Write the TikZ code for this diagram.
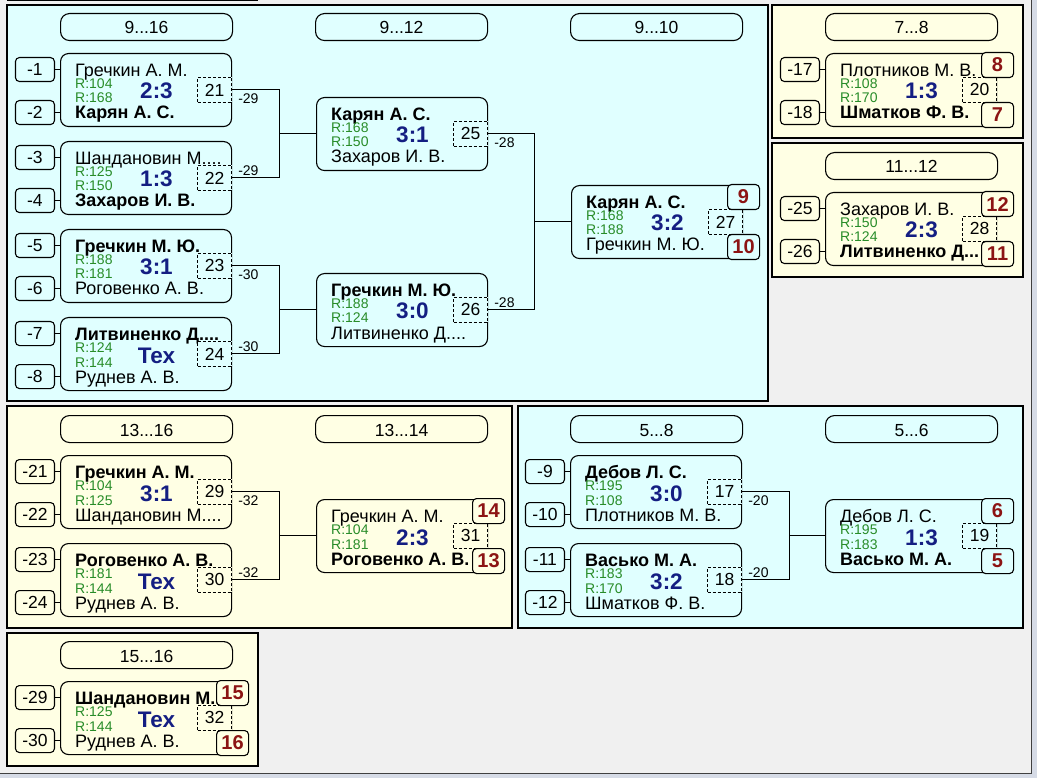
\documentclass[tikz,border=0pt]{standalone}
\usepackage{fontspec}
\setmainfont{Liberation Sans}
\usetikzlibrary{calc}
\definecolor{cyanbg}{RGB}{224,255,255}
\definecolor{yelbg}{RGB}{255,255,228}
\definecolor{graybg}{RGB}{240,240,240}
\definecolor{stripbg}{RGB}{214,219,230}
\definecolor{scoreblue}{RGB}{20,30,130}
\definecolor{rgreen}{RGB}{40,140,40}
\definecolor{placered}{RGB}{140,20,20}
\colorlet{pbg}{cyanbg}

\newcommand{\drawmatch}[9]{%
 \node[matchbox] (#1) at (#2,#3) {};
 \node[nametext] (#1a) at ($(#1.north west)+(15,23.5)$) {#4};
 \node[rtext] (#1ra) at ($(#1.north west)+(15,35.5)$) {#6};
 \node[rtext] (#1rb) at ($(#1.north west)+(15,50)$) {#7};
 \node[scoretext] (#1sc) at ($(#1.north west)+(96.5,46)$) {#8};
 \node[nametext] (#1b) at ($(#1.north west)+(15,66)$) {#5};
 \node[numbox, anchor=north east] (#1d) at ($(#1.north east)+(0,24)$) {#9};
}
\newcommand{\drawseeds}[3]{%
 \node[seedbox, anchor=north east] (#1s1) at ($(#1.north west)+(-5,4)$) {#2};
 \node[seedbox, anchor=north east] (#1s2) at ($(#1.north west)+(-5,47)$) {#3};
 \draw[conn] (#1s1.east) -- (#1s1.east -| #1.west);
 \draw[conn] (#1s2.east) -- (#1s2.east -| #1.west);
}
\newcommand{\drawplaces}[3]{%
 \node[placebox, anchor=north east] (#1p1) at ($(#1.north east)+(17,-1)$) {#2};
 \node[placebox, anchor=south east] (#1p2) at ($(#1.south east)+(17,1)$) {#3};
}
\newcommand{\drawjoin}[5]{%
 \coordinate (#1j) at ($(#1d.east)!0.5!(#2d.east)+(#5,0)$);
 \draw[conn] (#1d.east) -| (#1j) |- (#2d.east);
 \draw[conn] (#1j) -- (#1j -| #3.west);
 \node[lbl, anchor=north west] (#1l) at ($(#1d.east)+(6,4)$) {#4};
 \node[lbl, anchor=south west] (#2l) at ($(#2d.east)+(6,-2)$) {#4};
}
\newcommand{\drawpill}[4]{%
 \node[pill] (#1) at (#2,#3) {};
 \node[pilltext] (#1t) at ($(#1.north)+(0,21)$) {#4};
}

\begin{document}
\begin{tikzpicture}[x=1pt,y=-1pt,
 panel/.style={draw=black, line width=1.1pt},
 pill/.style={draw=black, line width=1.1pt, rounded corners=9pt, minimum width=172pt, minimum height=27pt, inner sep=0pt, anchor=north west},
 pilltext/.style={font=\fontsize{17.5}{20}\selectfont, anchor=base, inner sep=0pt},
 matchbox/.style={draw=black, line width=1.1pt, rounded corners=8pt, minimum width=171pt, minimum height=73pt, inner sep=0pt, anchor=north west},
 seedbox/.style={draw=black, line width=1.1pt, rounded corners=4pt, minimum width=39pt, minimum height=24pt, inner sep=0pt, font=\fontsize{17.5}{20}\selectfont},
 numbox/.style={draw=black, line width=0.9pt, dash pattern=on 3pt off 2pt, fill=pbg, minimum width=34pt, minimum height=25pt, inner sep=0pt, font=\fontsize{17.5}{20}\selectfont},
 placebox/.style={draw=black, line width=1.1pt, rounded corners=4pt, fill=pbg, minimum width=32pt, minimum height=25pt, inner sep=0pt, font=\bfseries\fontsize{20}{22}\selectfont, text=placered},
 nametext/.style={font=\fontsize{18}{20}\selectfont, anchor=base west, inner sep=0pt, text depth=0pt},
 rtext/.style={font=\fontsize{14}{15}\selectfont, text=rgreen, anchor=base west, inner sep=0pt},
 scoretext/.style={font=\bfseries\fontsize{22.5}{24}\selectfont, text=scoreblue, anchor=base, inner sep=0pt},
 conn/.style={draw=black, line width=1pt},
 lbl/.style={font=\fontsize{14}{15}\selectfont, inner sep=0pt},
]
\useasboundingbox (0,0) rectangle (1037,778);
\fill[graybg] (0,0) rectangle (1037,778);
\fill[stripbg] (1032,0) rectangle (1037,778);
\fill[stripbg] (0,774) rectangle (1037,778);
\draw[line width=1.2pt, black!75] (1031.5,0) -- (1031.5,773.5) -- (0,773.5);
\draw[line width=1.5pt] (7,0.5) -- (258,0.5);

% ---------- Panel 9...16 ----------
\colorlet{pbg}{cyanbg}
\draw[panel, fill=cyanbg] (7,5) rectangle (768,401);
\drawpill{pA1}{60}{13}{9...16}
\drawpill{pA2}{315}{13}{9...12}
\drawpill{pA3}{570}{13}{9...10}
\drawmatch{M21}{60}{53}{Гречкин А. М.}{\bfseries Карян А. С.}{R:104}{R:168}{2:3}{21}
\drawseeds{M21}{-1}{-2}
\drawmatch{M22}{60}{141}{Шандановин М....}{\bfseries Захаров И. В.}{R:125}{R:150}{1:3}{22}
\drawseeds{M22}{-3}{-4}
\drawmatch{M23}{60}{229}{\bfseries Гречкин М. Ю.}{Роговенко А. В.}{R:188}{R:181}{3:1}{23}
\drawseeds{M23}{-5}{-6}
\drawmatch{M24}{60}{317}{\bfseries Литвиненко Д....}{Руднев А. В.}{R:124}{R:144}{Тех}{24}
\drawseeds{M24}{-7}{-8}
\drawmatch{M25}{316}{97}{\bfseries Карян А. С.}{Захаров И. В.}{R:168}{R:150}{3:1}{25}
\drawmatch{M26}{316}{273}{\bfseries Гречкин М. Ю.}{Литвиненко Д....}{R:188}{R:124}{3:0}{26}
\drawmatch{M27}{571}{185}{\bfseries Карян А. С.}{Гречкин М. Ю.}{R:168}{R:188}{3:2}{27}
\drawplaces{M27}{9}{10}
\drawjoin{M21}{M22}{M25}{-29}{47}
\drawjoin{M23}{M24}{M26}{-30}{47}
\drawjoin{M25}{M26}{M27}{-28}{46}

% ---------- Panel 7...8 ----------
\colorlet{pbg}{yelbg}
\draw[panel, fill=yelbg] (772,5) rectangle (1023,138);
\drawpill{pB1}{825}{13}{7...8}
\drawmatch{M20}{825}{53}{Плотников М. В.}{\bfseries Шматков Ф. В.}{R:108}{R:170}{1:3}{20}
\drawseeds{M20}{-17}{-18}
\drawplaces{M20}{8}{7}

% ---------- Panel 11...12 ----------
\draw[panel, fill=yelbg] (772,143) rectangle (1023,277);
\drawpill{pC1}{825}{152}{11...12}
\drawmatch{M28}{825}{192}{Захаров И. В.}{\bfseries Литвиненко Д...}{R:150}{R:124}{2:3}{28}
\drawseeds{M28}{-25}{-26}
\drawplaces{M28}{12}{11}

% ---------- Panel 13...16 ----------
\draw[panel, fill=yelbg] (7,406) rectangle (512,628);
\drawpill{pD1}{60}{415}{13...16}
\drawpill{pD2}{315}{415}{13...14}
\drawmatch{M29}{60}{455}{\bfseries Гречкин А. М.}{Шандановин М....}{R:104}{R:125}{3:1}{29}
\drawseeds{M29}{-21}{-22}
\drawmatch{M30}{60}{543}{\bfseries Роговенко А. В.}{Руднев А. В.}{R:181}{R:144}{Тех}{30}
\drawseeds{M30}{-23}{-24}
\drawmatch{M31}{316}{499}{Гречкин А. М.}{\bfseries Роговенко А. В.}{R:104}{R:181}{2:3}{31}
\drawplaces{M31}{14}{13}
\drawjoin{M29}{M30}{M31}{-32}{47}

% ---------- Panel 5...8 ----------
\colorlet{pbg}{cyanbg}
\draw[panel, fill=cyanbg] (518,406) rectangle (1023,628);
\drawpill{pE1}{570}{415}{5...8}
\drawpill{pE2}{825}{415}{5...6}
\drawmatch{M17}{570}{455}{\bfseries Дебов Л. С.}{Плотников М. В.}{R:195}{R:108}{3:0}{17}
\drawseeds{M17}{-9}{-10}
\drawmatch{M18}{570}{543}{\bfseries Васько М. А.}{Шматков Ф. В.}{R:183}{R:170}{3:2}{18}
\drawseeds{M18}{-11}{-12}
\drawmatch{M19}{825}{499}{Дебов Л. С.}{\bfseries Васько М. А.}{R:195}{R:183}{1:3}{19}
\drawplaces{M19}{6}{5}
\drawjoin{M17}{M18}{M19}{-20}{47}

% ---------- Panel 15...16 ----------
\colorlet{pbg}{yelbg}
\draw[panel, fill=yelbg] (7,633) rectangle (258,766);
\drawpill{pF1}{60}{641}{15...16}
\drawmatch{M32}{60}{681}{\bfseries Шандановин М..}{Руднев А. В.}{R:125}{R:144}{Тех}{32}
\drawseeds{M32}{-29}{-30}
\drawplaces{M32}{15}{16}
\end{tikzpicture}
\end{document}
